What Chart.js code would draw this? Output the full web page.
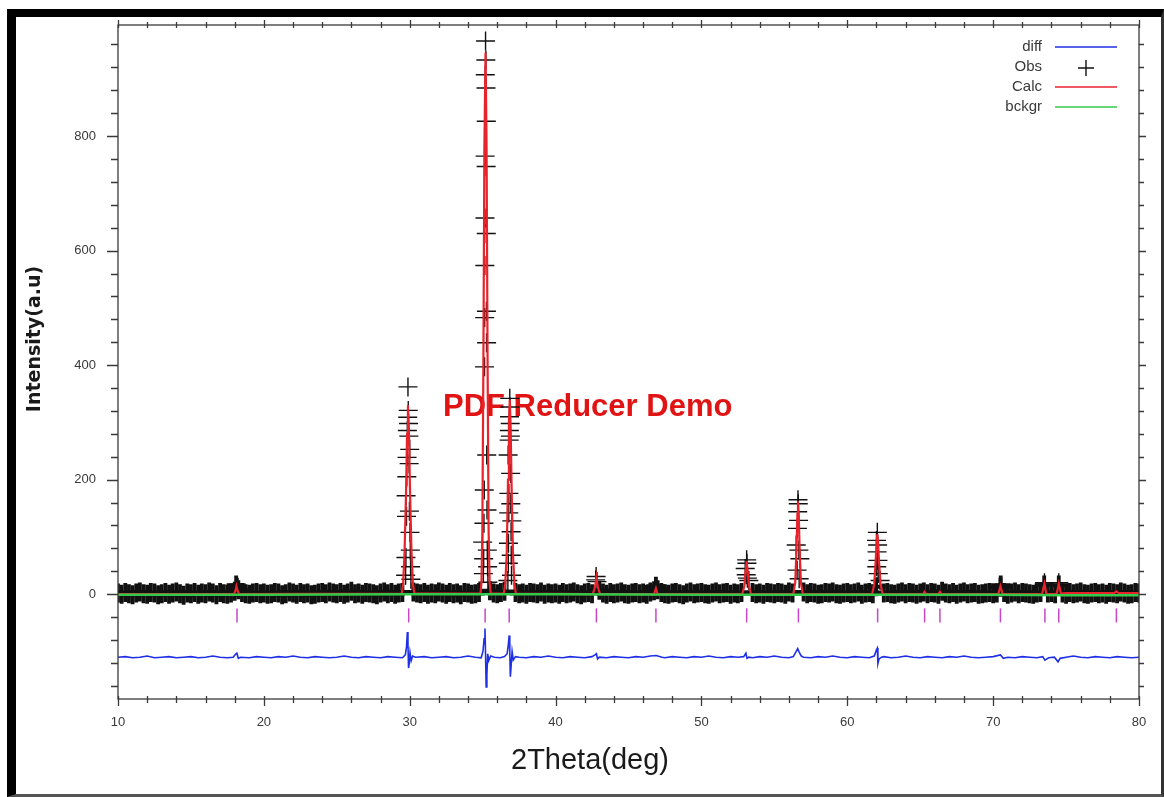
<!DOCTYPE html>
<html>
<head>
<meta charset="utf-8">
<title>Rietveld plot</title>
<script src="https://cdn.jsdelivr.net/npm/chart.js@4.4.1/dist/chart.umd.min.js"></script>
<style>
  html, body { margin: 0; padding: 0; background: #fff; overflow: hidden; }
  #wrap { position: relative; width: 1164px; height: 797px; }
  #chart { position: absolute; left: 0; top: 0; }
  #frame {
    position: absolute; left: 7px; top: 9px; width: 1157px; height: 788px; box-sizing: border-box;
    border-top: 8px solid #000; border-left: 9px solid #000;
    border-right: 3px solid #333; border-bottom: 3px solid #555;
    pointer-events: none;
  }
</style>
</head>
<body>
<div id="wrap">
  <canvas id="chart" width="1164" height="797"></canvas>
  <div id="frame"></div>
</div>
<script>
// scan grid of the observed pattern (2theta start / step)
const scanStart = 10;
const scanStep = 0.25;

// observed counts on the scan grid, one row = 5 deg
const obsScan = [
  2, 0, 3, 1, -1, 2, 4, 1, 0, 3, 2, -1, 1, 3, 0, 2, 4, 1, -2, 2,
  1, 3, 0, 2, 1, 4, 2, -1, 3, 1, 0, 2, 5, 8, 3, 1, 0, 2, 3, 1,
  2, 0, 1, 3, 2, -1, 1, 4, 2, 0, 3, 1, 2, -1, 0, 2, 3, 1, 4, 2,
  1, 3, 0, 2, 5, 1, 2, 0, 3, 2, 1, -1, 2, 4, 1, 3, 0, 2, 3, 172,
  253, 4, 2, 1, 3, 0, 2, 1, 4, 2, 0, 3, 1, 2, -1, 3, 2, 0, 1, 3,
  91, 826, 6, 2, 1, 3, 5, 243, 128, 3, 1, 2, 0, 3, 2, 1, 4, 0, 2, 1,
  2, 0, 3, 1, 2, 4, 1, -1, 2, 3, 1, 25, 7, 2, 0, 3, 1, 2, 4, 1,
  0, 2, 3, 1, 2, 0, 4, 6, 8, 3, 1, 0, 2, 3, 1, -1, 2, 4, 1, 2,
  3, 1, 0, 2, 4, 1, 2, 3, 0, 2, 1, 3, 45, 24, 3, 1, 2, 0, 3, 2,
  1, 3, 2, 0, 4, 2, 86, 62, 4, 1, 3, 2, 0, 1, 3, 2, 4, 1, 0, 2,
  3, 1, 2, 4, 0, 2, 3, 1, 94, 24, 2, 3, 1, 0, 2, 4, 1, 3, 2, 0,
  2, 4, 1, 3, 2, 0, 5, 2, 1, 3, 0, 2, 4, 1, 2, 3, 0, 1, 2, 3,
  1, 2, 12, 3, 0, 2, 4, 1, 3, 2, 1, 0, 2, 3, 16, 2, 3, 1, 16, 2,
  0, 3, 1, 2, 4, 1, 0, 2, 3, 1, 2, 0, 3, 2, 1, 4, 2, 0, 1, 3,
  2
];

// extra observed points inside the Bragg peaks
const obsPeakTheta = [
  18.10, 18.15,
  29.88, 29.90, 29.86, 29.92, 29.84, 29.94, 29.82, 29.96, 29.80, 29.98, 29.78, 30.02, 30.04, 29.74, 30.06, 29.72, 30.08,
  35.20, 35.22, 35.18, 35.23, 35.17, 35.24, 35.16, 35.25, 35.15, 35.26, 35.14, 35.27, 35.13, 35.28, 35.11, 35.30, 35.09, 35.32, 35.07, 35.34, 35.05, 35.36,
  36.86, 36.88, 36.84, 36.89, 36.83, 36.90, 36.82, 36.92, 36.80, 36.93, 36.79, 36.95, 36.77, 36.96, 36.76, 36.98, 36.73,
  42.78, 42.84,
  46.88,
  53.10, 53.12, 53.07, 53.15,
  56.62, 56.64, 56.60, 56.66, 56.58, 56.68, 56.56, 56.70,
  62.06, 62.08, 62.04, 62.10, 62.02, 62.12, 61.98,
  70.52, 73.52, 74.50
];
const obsPeakCounts = [
  16, 12,
  362, 321, 309, 298, 286, 276, 239, 228, 205, 145, 136, 108, 77, 64, 48, 33, 26,
  966, 933, 907, 884, 765, 747, 657, 630, 574, 494, 483, 439, 397, 243, 182, 147, 124, 77, 62, 48, 36, 21,
  342, 327, 310, 298, 286, 276, 269, 211, 176, 158, 142, 109, 89, 68, 54, 33, 24,
  31, 22,
  14,
  60, 54, 34, 28,
  165, 158, 144, 129, 115, 77, 42, 27,
  108, 86, 74, 59, 48, 36, 13,
  16, 20, 20
];

// calculated profile [2theta, counts]
const calcCurve = [
  [10, 0], [17.95, 0], [18.05, 6], [18.12, 14], [18.2, 6], [18.3, 0],
  [29.45, 1], [29.55, 18], [29.65, 75], [29.75, 180], [29.82, 280], [29.88, 330], [29.95, 280], [30.02, 180], [30.12, 75], [30.22, 18], [30.32, 1],
  [34.85, 1], [34.92, 20], [34.98, 110], [35.05, 400], [35.12, 780], [35.2, 946], [35.27, 780], [35.34, 400], [35.41, 110], [35.48, 20], [35.55, 1],
  [36.45, 1], [36.55, 18], [36.65, 70], [36.74, 200], [36.8, 300], [36.86, 340], [36.92, 290], [36.99, 180], [37.08, 70], [37.18, 18], [37.28, 1],
  [42.55, 0], [42.7, 12], [42.8, 30], [42.9, 12], [43.05, 0],
  [46.75, 0], [46.88, 10], [47.0, 0],
  [52.8, 0], [52.95, 15], [53.03, 40], [53.1, 58], [53.17, 40], [53.25, 15], [53.4, 0],
  [56.3, 0], [56.43, 20], [56.52, 80], [56.58, 140], [56.62, 162], [56.67, 140], [56.73, 80], [56.82, 20], [56.95, 0],
  [61.7, 0], [61.85, 18], [61.95, 60], [62.02, 95], [62.06, 105], [62.11, 90], [62.18, 55], [62.28, 18], [62.42, 0],
  [65.2, 0], [65.3, 4], [65.4, 0], [66.25, 0], [66.35, 4], [66.45, 0],
  [70.35, 0], [70.5, 14], [70.65, 0],
  [73.35, 0], [73.52, 18], [73.65, 0], [74.35, 0], [74.5, 18], [74.65, 1],
  [75, 2], [78.3, 2], [78.45, 5], [78.6, 2], [80, 2]
];

// background [2theta, counts]
const bckgrCurve = [
  [10, -1], [20, -1], [30, 0], [40, 0], [50, -1], [60, -1], [70, -1], [75, -2], [80, -2]
];

// difference curve (obs - calc, offset) [2theta, counts]
const diffCurve = [
  [10, -110], [10.5, -109], [11, -111], [11.5, -110], [12, -108], [12.5, -111], [13, -110], [13.5, -109], [14, -111], [14.5, -110],
  [15, -109], [15.5, -111], [16, -110], [16.5, -108], [17, -110], [17.5, -111], [17.9, -110], [18.05, -105], [18.15, -103], [18.25, -112],
  [18.4, -110], [19, -111], [19.5, -109], [20, -110], [20.5, -111], [21, -109], [21.5, -110], [22, -108], [22.5, -110], [23, -111],
  [23.5, -109], [24, -110], [24.5, -111], [25, -110], [25.5, -108], [26, -110], [26.5, -111], [27, -109], [27.5, -110], [28, -111],
  [28.5, -109], [29, -110], [29.5, -111], [29.7, -106], [29.78, -92], [29.84, -66], [29.88, -88], [29.92, -129], [29.96, -122], [30.02, -102],
  [30.1, -116], [30.2, -108], [30.4, -110], [31, -109], [31.5, -111], [32, -110], [32.5, -109], [33, -111], [33.5, -110], [34, -108],
  [34.5, -110], [34.9, -111], [35.02, -100], [35.1, -78], [35.16, -60], [35.2, -105], [35.24, -162], [35.29, -140], [35.35, -104], [35.42, -116],
  [35.55, -108], [35.8, -110], [36.2, -111], [36.5, -109], [36.68, -104], [36.76, -88], [36.82, -72], [36.86, -100], [36.9, -144], [36.95, -126],
  [37.02, -100], [37.1, -115], [37.25, -109], [37.5, -110], [38, -111], [38.5, -109], [39, -110], [39.5, -108], [40, -110], [40.5, -111],
  [41, -109], [41.5, -110], [42, -111], [42.5, -109], [42.7, -106], [42.8, -104], [42.88, -113], [43, -110], [43.5, -111], [44, -109],
  [44.5, -110], [45, -111], [45.5, -109], [46, -110], [46.5, -108], [46.9, -107], [47.3, -110], [47.5, -111], [48, -109], [48.5, -110],
  [49, -111], [49.5, -109], [50, -110], [50.5, -108], [51, -110], [51.5, -111], [52, -109], [52.5, -110], [52.9, -109], [53.05, -103],
  [53.12, -112], [53.25, -110], [53.5, -111], [54, -109], [54.5, -110], [55, -108], [55.5, -110], [56, -111], [56.3, -109], [56.5, -100],
  [56.6, -95], [56.7, -101], [56.85, -108], [57, -110], [57.5, -111], [58, -109], [58.5, -110], [59, -108], [59.5, -110], [60, -111],
  [60.5, -109], [61, -110], [61.5, -111], [61.85, -108], [62.0, -97], [62.06, -94], [62.1, -121], [62.18, -113], [62.35, -110], [62.5, -109],
  [63, -111], [63.5, -110], [64, -108], [64.5, -110], [65, -111], [65.5, -109], [66, -110], [66.5, -111], [67, -109], [67.5, -110],
  [68, -108], [68.5, -110], [69, -111], [69.5, -110], [70, -109], [70.5, -106], [70.7, -112], [71, -110], [71.5, -111], [72, -109],
  [72.5, -110], [73, -111], [73.4, -109], [73.55, -115], [73.8, -111], [74.2, -110], [74.45, -118], [74.6, -112], [75, -110], [75.5, -108],
  [76, -110], [76.5, -111], [77, -109], [77.5, -110], [78, -111], [78.5, -109], [79, -110], [79.5, -111], [80, -110]
];

// reflection positions (tick marks) and the level they sit at
const reflections = [18.16, 29.93, 35.17, 36.82, 42.8, 46.88, 53.1, 56.65, 62.08, 65.3, 66.35, 70.5, 73.55, 74.5, 78.45];
const reflectionLevel = -37;

// axis labels
const xTickLabels = [10, 20, 30, 40, 50, 60, 70, 80];
const yTickLabels = [0, 200, 400, 600, 800];

const FONT = '"Liberation Sans", Arial, Helvetica, sans-serif';

const obsPoints = obsScan.map((v, i) => ({ x: scanStart + i * scanStep, y: v }))
  .concat(obsPeakTheta.map((t, i) => ({ x: t, y: obsPeakCounts[i] })));
const toXY = arr => arr.map(p => ({ x: p[0], y: p[1] }));

// frame box with inner/outer ticks on all four sides
const frameTicks = {
  id: 'frameTicks',
  afterDatasetsDraw(chart) {
    const { ctx, chartArea: a, scales: { x, y } } = chart;
    ctx.save();
    ctx.strokeStyle = '#3a3a3a';
    ctx.lineWidth = 1.3;
    ctx.strokeRect(a.left, a.top, a.right - a.left, a.bottom - a.top);
    ctx.beginPath();
    x.ticks.forEach(t => {
      const px = Math.round(x.getPixelForValue(t.value)) + 0.5;
      const major = t.value % 10 === 0;
      ctx.moveTo(px, a.bottom - 3); ctx.lineTo(px, a.bottom + (major ? 7 : 4));
      ctx.moveTo(px, a.top + 3); ctx.lineTo(px, a.top - (major ? 5 : 3));
    });
    y.ticks.forEach(t => {
      const py = Math.round(y.getPixelForValue(t.value)) + 0.5;
      const major = t.value % 200 === 0;
      ctx.moveTo(a.left, py); ctx.lineTo(a.left - (major ? 11 : 7), py);
      ctx.moveTo(a.right, py); ctx.lineTo(a.right + (major ? 7 : 5), py);
    });
    ctx.stroke();
    ctx.restore();
  }
};

// axis titles and the red watermark
const titles = {
  id: 'titles',
  beforeDatasetsDraw(chart) {
    const ctx = chart.ctx;
    ctx.save();
    ctx.font = 'bold 31px ' + FONT;
    ctx.fillStyle = '#e01414';
    ctx.textAlign = 'left';
    ctx.textBaseline = 'middle';
    ctx.fillText('PDF Reducer Demo', 443, 407);
    ctx.restore();
  },
  afterDraw(chart) {
    const ctx = chart.ctx;
    ctx.save();
    ctx.fillStyle = '#1a1a1a';
    ctx.textAlign = 'center';
    ctx.textBaseline = 'middle';
    ctx.font = '29px ' + FONT;
    ctx.fillText('2Theta(deg)', 590, 761);
    ctx.translate(35, 339);
    ctx.rotate(-Math.PI / 2);
    ctx.font = 'bold 19px "DejaVu Sans", Verdana, sans-serif';
    ctx.fillText('Intensity(a.u)', 0, 0);
    ctx.restore();
  }
};

// legend in the top right corner, text left of the sample
const legendBox = {
  id: 'legendBox',
  afterDraw(chart) {
    const ctx = chart.ctx;
    const rows = [47, 67, 87, 107];
    ctx.save();
    ctx.font = '15px ' + FONT;
    ctx.textAlign = 'right';
    ctx.textBaseline = 'middle';
    chart.data.datasets.forEach((ds, i) => {
      if (i > 3) return;
      const yy = rows[i];
      ctx.fillStyle = '#3a3a3a';
      ctx.fillText(ds.label, 1042, yy);
      ctx.strokeStyle = ds.borderColor;
      ctx.beginPath();
      if (ds.pointStyle === 'cross') {
        ctx.lineWidth = 1.4;
        ctx.moveTo(1078, yy + 1); ctx.lineTo(1094, yy + 1);
        ctx.moveTo(1086, yy - 7); ctx.lineTo(1086, yy + 9);
      } else {
        ctx.lineWidth = 1.5;
        ctx.moveTo(1055, yy); ctx.lineTo(1117, yy);
      }
      ctx.stroke();
    });
    ctx.restore();
  }
};

new Chart(document.getElementById('chart'), {
  type: 'scatter',
  data: {
    datasets: [
      {
        label: 'diff', data: toXY(diffCurve), showLine: true,
        borderColor: '#1f2fe6', borderWidth: 1.6, pointRadius: 0, tension: 0
      },
      {
        label: 'Obs', data: obsPoints, pointStyle: 'cross',
        borderColor: '#111', pointBorderColor: '#111',
        pointRadius: 9.5,
        pointBorderWidth: ctx => (ctx.raw && ctx.raw.y < 20 ? 3.8 : 1.4),
        order: 3
      },
      {
        label: 'Calc', data: toXY(calcCurve), showLine: true,
        borderColor: '#e8232b', borderWidth: 2.2, pointRadius: 0, tension: 0, order: 2
      },
      {
        label: 'bckgr', data: toXY(bckgrCurve), showLine: true,
        borderColor: '#33c94a', borderWidth: 2.5, pointRadius: 0, tension: 0, order: 1
      },
      {
        label: 'reflections', data: reflections.map(t => ({ x: t, y: reflectionLevel })),
        pointStyle: 'line', rotation: 90, pointRadius: 7,
        pointBorderColor: '#c845c8', borderColor: '#c845c8', pointBorderWidth: 1.5, order: 4
      }
    ]
  },
  options: {
    responsive: false,
    animation: false,
    events: [],
    layout: { padding: { top: 25, right: 25, left: 0, bottom: 0 } },
    plugins: { legend: { display: false }, tooltip: { enabled: false } },
    scales: {
      x: {
        type: 'linear', min: 10, max: 80,
        afterBuildTicks: axis => {
          axis.ticks = [];
          for (let v = 10; v <= 80; v += 2) axis.ticks.push({ value: v });
        },
        afterFit: axis => { axis.height = 98; axis.paddingLeft = 0; axis.paddingRight = 0; },
        grid: { display: false, drawTicks: false },
        border: { display: false },
        ticks: {
          autoSkip: false, maxRotation: 0, padding: 16,
          color: '#3a3a3a', font: { family: FONT, size: 13 },
          callback: v => (xTickLabels.includes(v) ? String(v) : '')
        }
      },
      y: {
        type: 'linear', min: -183, max: 994,
        afterBuildTicks: axis => {
          axis.ticks = [];
          for (let v = -160; v <= 960; v += 40) axis.ticks.push({ value: v });
        },
        afterFit: axis => { axis.width = 118; axis.paddingTop = 0; axis.paddingBottom = 0; },
        grid: { display: false, drawTicks: false },
        border: { display: false },
        ticks: {
          autoSkip: false, padding: 22,
          color: '#3a3a3a', font: { family: FONT, size: 13 },
          callback: v => (yTickLabels.includes(v) ? String(v) : '')
        }
      }
    }
  },
  plugins: [frameTicks, titles, legendBox]
});
</script>
</body>
</html>
